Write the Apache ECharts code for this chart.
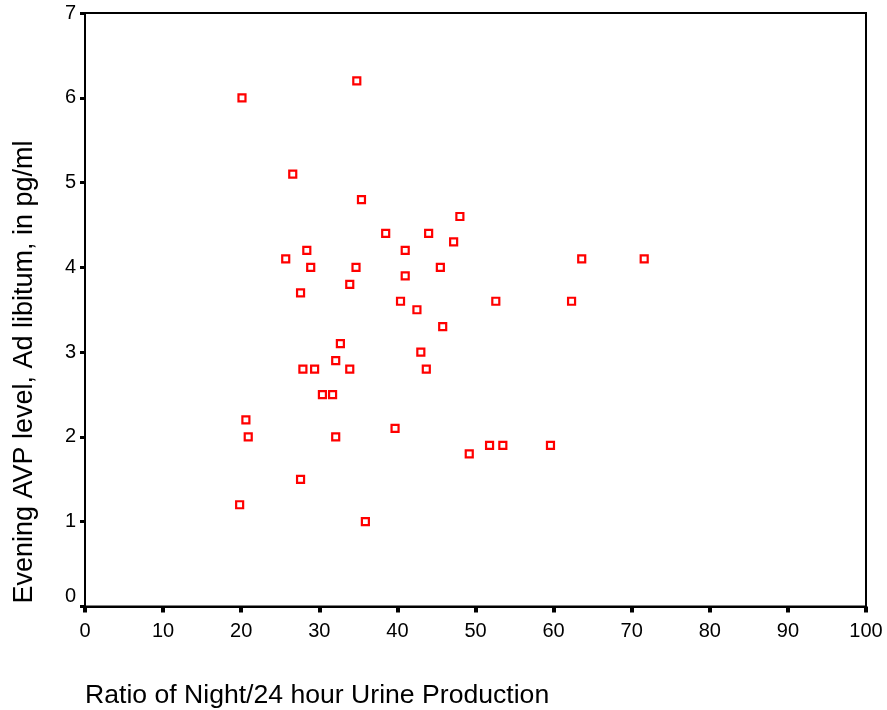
<!DOCTYPE html>
<html>
<head>
<meta charset="utf-8">
<script src="https://cdn.jsdelivr.net/npm/echarts@6/dist/echarts.min.js"></script>
<style>
html,body{margin:0;padding:0;background:#fff;}
#chart{width:887px;height:710px;}
</style>
</head>
<body>
<div id="chart"></div>
<script>
var xTitle = 'Ratio of Night/24 hour Urine Production';
var yTitle = 'Evening AVP level, Ad libitum, in pg/ml';
var xValues = [20.1,34.8,26.6,35.4,48.0,38.5,44.0,47.2,28.4,41.0,25.7,63.6,71.6,28.9,34.7,45.5,41.0,33.9,27.6,40.4,52.6,62.3,42.5,45.8,32.7,43.0,32.1,27.9,29.4,33.9,43.7,30.4,31.7,20.6,20.9,32.1,39.7,49.2,51.8,53.5,59.6,27.6,19.8,35.9];
var yValues = [6.0,6.2,5.1,4.8,4.6,4.4,4.4,4.3,4.2,4.2,4.1,4.1,4.1,4.0,4.0,4.0,3.9,3.8,3.7,3.6,3.6,3.6,3.5,3.3,3.1,3.0,2.9,2.8,2.8,2.8,2.8,2.5,2.5,2.2,2.0,2.0,2.1,1.8,1.9,1.9,1.9,1.5,1.2,1.0];

var pts = xValues.map(function(x,i){return [x,yValues[i]];});
var font = '"Liberation Sans", Arial, sans-serif';
var chart = echarts.init(document.getElementById('chart'), null, {renderer:'canvas'});
chart.setOption({
  animation:false,
  backgroundColor:'#ffffff',
  grid:{left:85,top:13,width:781,height:593.5,show:true,borderColor:'#000',borderWidth:2,backgroundColor:'transparent'},
  xAxis:{type:'value',min:0,max:100,interval:10,
    axisLine:{show:true,lineStyle:{color:'#000',width:2}},
    axisTick:{show:true,length:6,lineStyle:{color:'#000',width:4}},
    axisLabel:{color:'#000',fontSize:20,fontFamily:font,margin:15},
    splitLine:{show:false}},
  yAxis:{type:'value',min:0,max:7,interval:1,
    axisLine:{show:true,lineStyle:{color:'#000',width:2}},
    axisTick:{show:true,length:5,lineStyle:{color:'#000',width:3}},
    axisLabel:{color:'#000',fontSize:20,fontFamily:font,margin:9,
      formatter:function(v){return v===0?'{z|0}':String(v);},
      rich:{z:{fontSize:20,fontFamily:font,color:'#000',padding:[0,0,20,0]}}},
    splitLine:{show:false}},
  graphic:[
    {type:'text',x:85,y:696,style:{text:xTitle,font:'26.6px '+font,fill:'#000',textAlign:'left',textVerticalAlign:'middle'}},
    {type:'text',x:25,y:372,rotation:Math.PI/2,style:{text:yTitle,font:'27px '+font,fill:'#000',textAlign:'center',textVerticalAlign:'middle'}}
  ],
  series:[{type:'scatter',data:pts,symbol:'rect',symbolSize:7,
    itemStyle:{color:'#ffffff',borderColor:'#ff0000',borderWidth:2.2,opacity:1}}]
});
</script>
</body>
</html>
